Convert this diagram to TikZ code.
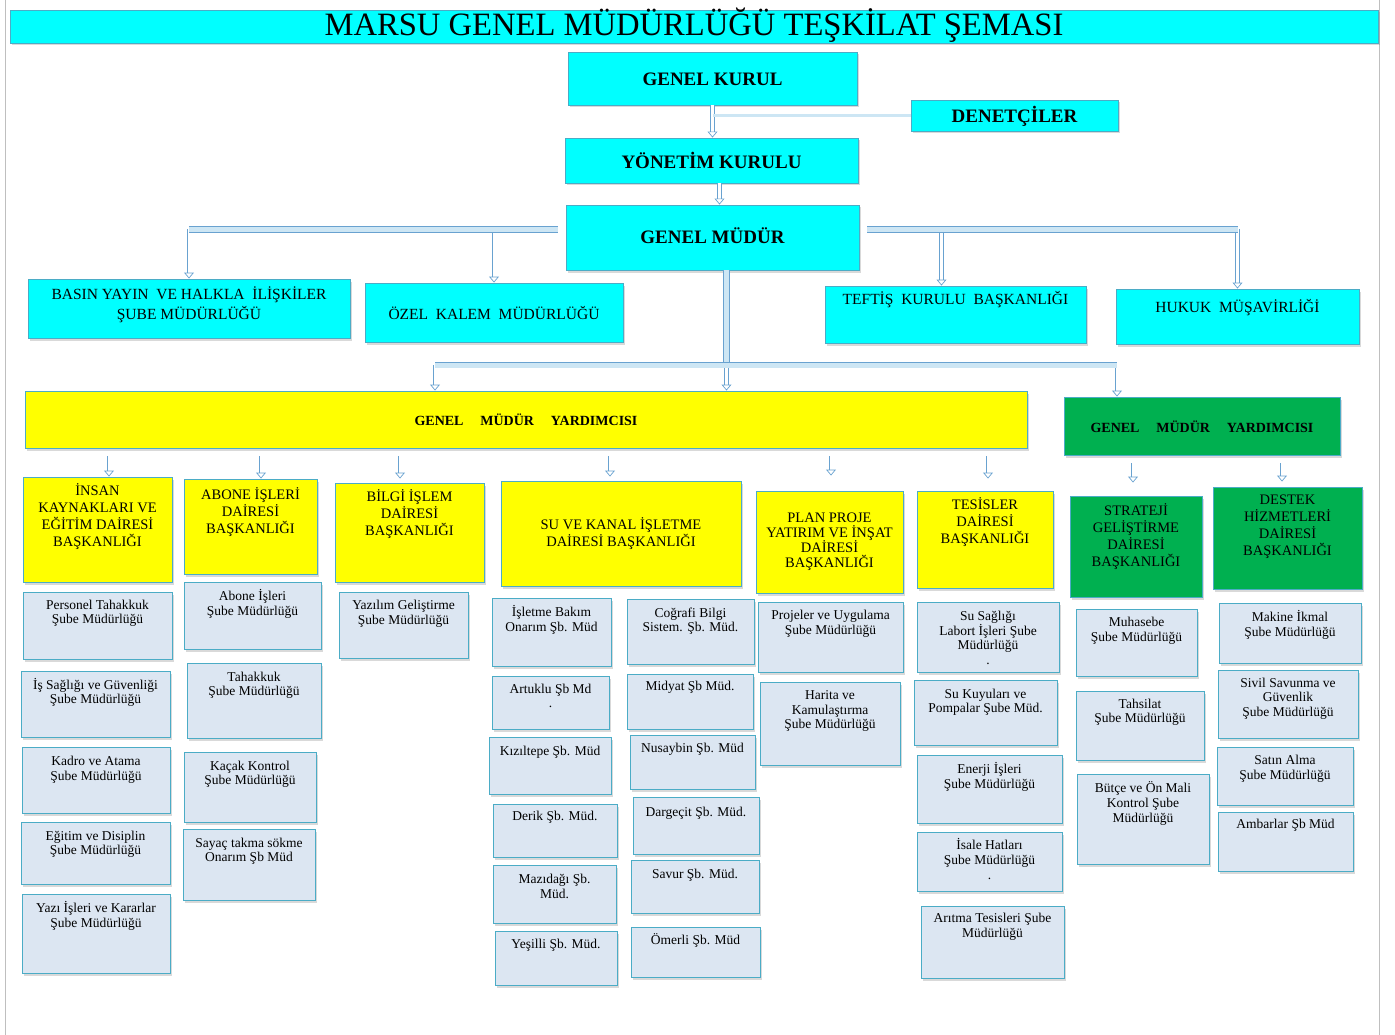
\documentclass[tikz,border=0pt]{standalone}
\usepackage{fontspec}
\setmainfont{Liberation Serif}
\usetikzlibrary{arrows.meta,shadows}

\definecolor{camgobegi}{RGB}{0,255,255}
\definecolor{sarirenk}{RGB}{255,255,0}
\definecolor{yesilrenk}{RGB}{0,176,80}
\definecolor{birimrenk}{RGB}{220,230,242}
\definecolor{kenarrenk}{RGB}{75,172,198}
\definecolor{okkenar}{RGB}{105,162,208}
\definecolor{okdolgu}{RGB}{205,230,244}

\tikzset{
  kutu/.style={draw=kenarrenk, line width=0.9pt, inner sep=0pt,
    drop shadow={shadow xshift=1.5pt, shadow yshift=-2.5pt, opacity=0.3}},
  baslik/.style={kutu, fill=camgobegi},
  baslik txt/.style={font=\fontsize{32.6}{36}\selectfont},
  ust/.style={kutu, fill=camgobegi},
  ust txt/.style={font=\bfseries\fontsize{19}{22}\selectfont},
  orta/.style={kutu, fill=camgobegi},
  orta txt/.style={font=\fontsize{15.5}{19.5}\selectfont, align=center},
  yard/.style={kutu, fill=sarirenk},
  yard txt/.style={font=\bfseries\fontsize{14}{17}\selectfont},
  yardg/.style={kutu, fill=yesilrenk},
  yardg txt/.style={yard txt},
  daire/.style={kutu, fill=sarirenk},
  daire txt/.style={font=\fontsize{14.5}{17}\selectfont, align=center},
  daireg/.style={kutu, fill=yesilrenk},
  daireg txt/.style={daire txt},
  birim/.style={kutu, fill=birimrenk},
  birim txt/.style={font=\fontsize{13.5}{14.7}\selectfont, align=center},
  bar/.style={draw=okkenar, line width=0.8pt, double=okdolgu, double distance=5pt},
  ince/.style={draw=okkenar, line width=0.6pt, double=okdolgu, double distance=2.5pt},
  ok/.style={draw=okkenar, line width=0.7pt, double=white, double distance=3pt,
    -{Triangle[open, width=10pt, length=6pt]}},
  sayfa/.style={draw=black!25, line width=0.6pt},
}

% box: style, name, x1, y1, x2, y2, text y, text
\newcommand{\kutu}[8]{%
  \node[#1, minimum width={(#5)-(#3)}, minimum height={(#6)-(#4)}] (#2)
    at ({((#3)+(#5))/2},{((#4)+(#6))/2}) {};
  \node[#1 txt] (#2-t) at ({((#3)+(#5))/2},#7) {#8};
}

\begin{document}
\begin{tikzpicture}[x=1pt, y=-1pt]
    \useasboundingbox (0,0) rectangle (1395,1035);
    % page edges
    \draw[sayfa] (5,0) -- (5,1035);
    \draw[sayfa] (1379,0) -- (1379,1035);

    % title
    \kutu{baslik}{title}{10}{10}{1378}{43}{25.5}{MARSU GENEL MÜDÜRLÜĞÜ TEŞKİLAT ŞEMASI}

    % top of the chart
    \kutu{ust}{gk}{568}{52}{857}{105}{79}{GENEL KURUL}
    \kutu{ust}{den}{911}{100}{1118}{131}{116}{DENETÇİLER}
    \kutu{ust}{yk}{565}{138}{858}{183}{160}{YÖNETİM KURULU}
    \kutu{ust}{gm}{566}{205}{859}{270}{236}{GENEL MÜDÜR}

    % offices under the general manager
    \kutu{orta}{basin}{28}{279}{350}{338}{305}{BASIN YAYIN~ VE HALKLA~ İLİŞKİLER\\ŞUBE MÜDÜRLÜĞÜ}
    \kutu{orta}{ozel}{365}{283}{623}{342}{313}{ÖZEL~ KALEM~ MÜDÜRLÜĞÜ}
    \kutu{orta}{teftis}{825}{286}{1086}{343}{300}{TEFTİŞ~ KURULU~ BAŞKANLIĞI}
    \kutu{orta}{hukuk}{1116}{289}{1359}{344}{307.5}{HUKUK~ MÜŞAVİRLİĞİ}

    % deputy general managers
    \kutu{yard}{gmy1}{25}{391}{1027}{448}{420}{GENEL\hspace{1.2em}MÜDÜR\hspace{1.2em}YARDIMCISI}
    \kutu{yardg}{gmy2}{1064}{397}{1340}{455}{426.5}{GENEL\hspace{1.2em}MÜDÜR\hspace{1.2em}YARDIMCISI}

    % departments
    \kutu{daire}{insan}{23}{477}{172}{582}{517}{İNSAN\\KAYNAKLARI VE\\EĞİTİM DAİRESİ\\BAŞKANLIĞI}
    \kutu{daire}{abone}{184}{479}{317}{574}{511.7}{ABONE İŞLERİ\\DAİRESİ\\BAŞKANLIĞI}
    \kutu{daire}{bilgi}{335}{483}{484}{582}{514.3}{BİLGİ İŞLEM\\DAİRESİ\\BAŞKANLIĞI}
    \kutu{daire}{su}{501}{481}{741}{586}{533.3}{SU VE KANAL İŞLETME\\DAİRESİ BAŞKANLIĞI}
    \kutu{daire}{plan}{756}{491}{903}{593}{542}{PLAN PROJE\\[-2pt]YATIRIM VE İNŞAT\\[-2pt]DAİRESİ\\[-2pt]BAŞKANLIĞI}
    \kutu{daire}{tesis}{917}{491}{1053}{588}{522.2}{TESİSLER\\DAİRESİ\\BAŞKANLIĞI}
    \kutu{daireg}{strateji}{1070}{496}{1202}{597}{536.4}{STRATEJİ\\GELİŞTİRME\\DAİRESİ\\BAŞKANLIĞI}
    \kutu{daireg}{destek}{1213}{487}{1362}{589}{527.2}{DESTEK\\HİZMETLERİ\\DAİRESİ\\BAŞKANLIĞI}

    % insan kaynaklari units
    \kutu{birim}{per}{23}{592}{172}{659}{613.2}{Personel Tahakkuk\\Şube Müdürlüğü}
    \kutu{birim}{isg}{21}{671}{170}{737}{692.5}{İş Sağlığı ve Güvenliği\\Şube Müdürlüğü}
    \kutu{birim}{kadro}{22}{747}{170}{813}{769.7}{Kadro ve Atama\\Şube Müdürlüğü}
    \kutu{birim}{egitim}{21}{822}{170}{884}{844.3}{Eğitim ve Disiplin\\Şube Müdürlüğü}
    \kutu{birim}{yazi}{22}{894}{170}{973}{915.8}{Yazı İşleri ve Kararlar\\Şube Müdürlüğü}

    % abone units
    \kutu{birim}{aboneis}{184}{582}{321}{649}{603.8}{Abone İşleri\\Şube Müdürlüğü}
    \kutu{birim}{tahakkuk}{187}{663}{321}{738}{685.3}{Tahakkuk\\Şube Müdürlüğü}
    \kutu{birim}{kacak}{184}{752}{316}{822}{774.2}{Kaçak Kontrol\\Şube Müdürlüğü}
    \kutu{birim}{sayac}{183}{829}{315}{900}{851.2}{Sayaç takma sökme\\Onarım Şb Müd}

    % bilgi islem unit
    \kutu{birim}{yazilim}{339}{592}{468}{658}{613.8}{Yazılım Geliştirme\\Şube Müdürlüğü}

    % su ve kanal units
    \kutu{birim}{isletme}{492}{598}{611}{666}{620.2}{İşletme Bakım\\Onarım Şb. Müd}
    \kutu{birim}{artuklu}{492}{676}{609}{729}{696}{Artuklu Şb Md\\.}
    \kutu{birim}{kiziltepe}{489}{737}{611}{794}{752.7}{Kızıltepe Şb. Müd}
    \kutu{birim}{derik}{493}{804}{617}{857}{817.7}{Derik Şb. Müd.}
    \kutu{birim}{mazidagi}{493}{865}{616}{923}{886.7}{Mazıdağı Şb.\\Müd.}
    \kutu{birim}{yesilli}{495}{931}{617}{985}{945.3}{Yeşilli Şb. Müd.}
    \kutu{birim}{cografi}{627}{599}{754}{664}{621.2}{Coğrafi Bilgi\\Sistem. Şb. Müd.}
    \kutu{birim}{midyat}{627}{674}{753}{729}{687.7}{Midyat Şb Müd.}
    \kutu{birim}{nusaybin}{630}{735}{755}{789}{749.3}{Nusaybin Şb. Müd}
    \kutu{birim}{dargecit}{633}{797}{759}{854}{813.3}{Dargeçit Şb. Müd.}
    \kutu{birim}{savur}{631}{860}{759}{913}{875.7}{Savur Şb. Müd.}
    \kutu{birim}{omerli}{631}{927}{760}{977}{940.7}{Ömerli Şb. Müd}

    % plan proje units
    \kutu{birim}{projeler}{758}{602}{903}{672}{623.7}{Projeler ve Uygulama\\Şube Müdürlüğü}
    \kutu{birim}{harita}{760}{682}{900}{765}{711}{Harita ve\\Kamulaştırma\\Şube Müdürlüğü}

    % tesisler units
    \kutu{birim}{susagligi}{917}{602}{1059}{672}{638}{Su Sağlığı\\Labort İşleri Şube\\Müdürlüğü\\.}
    \kutu{birim}{kuyular}{914}{680}{1057}{745}{702.2}{Su Kuyuları ve\\Pompalar Şube Müd.}
    \kutu{birim}{enerji}{917}{755}{1062}{823}{776.8}{Enerji İşleri\\Şube Müdürlüğü}
    \kutu{birim}{isale}{917}{832}{1062}{891}{859}{İsale Hatları\\Şube Müdürlüğü\\.}
    \kutu{birim}{aritma}{921}{906}{1064}{978}{926.8}{Arıtma Tesisleri Şube\\Müdürlüğü}

    % strateji units
    \kutu{birim}{muhasebe}{1076}{609}{1197}{676}{630.8}{Muhasebe\\Şube Müdürlüğü}
    \kutu{birim}{tahsilat}{1076}{691}{1204}{760}{712.2}{Tahsilat\\Şube Müdürlüğü}
    \kutu{birim}{butce}{1077}{774}{1209}{864}{803.6}{Bütçe ve Ön Mali\\Kontrol Şube\\Müdürlüğü}

    % destek units
    \kutu{birim}{makine}{1219}{603}{1361}{663}{624.8}{Makine İkmal\\Şube Müdürlüğü}
    \kutu{birim}{sivil}{1218}{670}{1358}{738}{698.5}{Sivil Savunma ve\\Güvenlik\\Şube Müdürlüğü}
    \kutu{birim}{satin}{1217}{747}{1353}{805}{768.7}{Satın Alma\\Şube Müdürlüğü}
    \kutu{birim}{ambar}{1218}{812}{1353}{871}{825.7}{Ambarlar Şb Müd}

    % connectors at the top
    \draw[ok] (gk.south) -- (gk.south |- yk.north);
    \draw[ince] (den.west) -- (den.west -| gk.south);
    \draw[ok] ([xshift=8pt]yk.south) -- ([xshift=8pt]yk.south |- gm.north);

    % branches of the general manager
    \coordinate (solbar) at ([shift={(-8pt,8pt)}]gm.west);
    \coordinate (sagbar) at ([shift={(8pt,8pt)}]gm.east);
    \coordinate (orta) at ([shift={(14pt,-95pt)}]gm.south);
    \coordinate (altsol) at (435,365);
    \coordinate (altsag) at (1117,365);
    \draw[ok] (solbar -| basin.north) -- (basin.north);
    \draw[ok] (solbar -| ozel.north) -- (ozel.north);
    \draw[ok] ([xshift=-14pt]sagbar -| teftis.north) -- ([xshift=-14pt]teftis.north);
    \draw[ok] (sagbar -| hukuk.north) -- (hukuk.north);
    \draw[ok] (altsol) -- (altsol |- gmy1.north);
    \draw[ok] (orta) -- (orta |- gmy1.north);
    \draw[ok] (altsag) -- (altsag |- gmy2.north);
    \draw[bar] (solbar) -- (solbar -| basin.north);
    \draw[bar] (sagbar) -- (sagbar -| hukuk.north);
    \draw[bar] ([xshift=14pt]gm.south) -- (orta);
    \draw[bar] (altsol) -- (altsag);

    % short arrows to the departments
    \foreach \d/\x/\g in {insan/109/0, abone/261/0, bilgi/400/4, su/610/4, plan/831/15, tesis/988/12}
      \draw[ok, shorten >=\g pt] ([yshift=-8pt]gmy1.south -| \x,0) -- (\d.north -| \x,0);
    \foreach \d/\x/\g in {strateji/1133/13, destek/1282/5}
      \draw[ok, shorten >=\g pt] ([yshift=-8pt]gmy2.south -| \x,0) -- (\d.north -| \x,0);
\end{tikzpicture}
\end{document}
